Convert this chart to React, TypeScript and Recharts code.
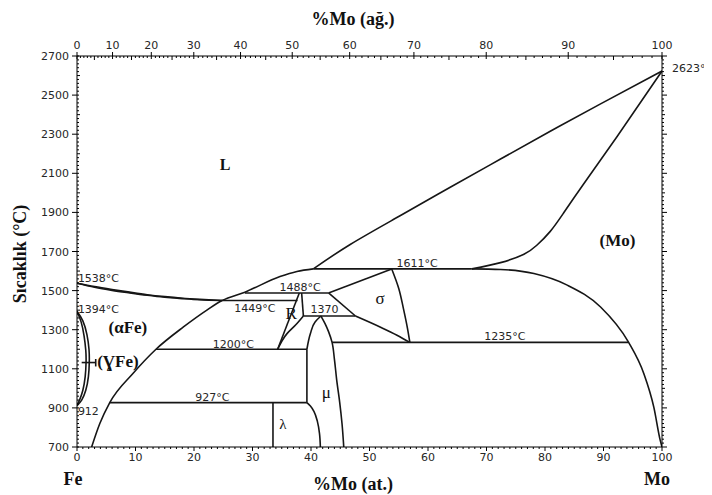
import React from "react";
import { LineChart, Line, XAxis, YAxis, ReferenceDot } from "recharts";

type P = { x: number; t: number };

// ---- tick labels ----
const atTicks = [0, 10, 20, 30, 40, 50, 60, 70, 80, 90, 100];
const wtTickLabels = [0, 10, 20, 30, 40, 50, 60, 70, 80, 90, 100];
const tempTicks = [700, 900, 1100, 1300, 1500, 1700, 1900, 2100, 2300, 2500, 2700];

// ---- phase boundaries (x = at.% Mo, t = °C) ----
const liqFeUpper: P[] = [
  { x: 0, t: 1538 }, { x: 3, t: 1521 }, { x: 6, t: 1506 }, { x: 9, t: 1492 },
  { x: 12, t: 1479 }, { x: 15, t: 1469 }, { x: 18, t: 1461 }, { x: 21, t: 1455 }, { x: 24.8, t: 1449 },
];
const solFeLower: P[] = [
  { x: 0, t: 1538 }, { x: 3, t: 1517 }, { x: 6, t: 1501 }, { x: 9, t: 1488 },
  { x: 12, t: 1476 }, { x: 15, t: 1466 }, { x: 18, t: 1459 }, { x: 21, t: 1453 }, { x: 24.8, t: 1449 },
];
const alphaSolvusLiq: P[] = [
  { x: 2.5, t: 700 }, { x: 3.9, t: 820 }, { x: 5.6, t: 927 }, { x: 9.6, t: 1077 },
  { x: 13.5, t: 1200 }, { x: 18.2, t: 1314 }, { x: 22.2, t: 1400 }, { x: 24.8, t: 1449 },
  { x: 28.7, t: 1492 }, { x: 34.7, t: 1572 }, { x: 37.6, t: 1598 }, { x: 40.4, t: 1611 },
];
const liquidusMo: P[] = [
  { x: 40.4, t: 1611 }, { x: 46.7, t: 1736 }, { x: 55.3, t: 1884 }, { x: 63.8, t: 2029 },
  { x: 72.4, t: 2173 }, { x: 80.9, t: 2315 }, { x: 89.5, t: 2455 }, { x: 100, t: 2623 },
];
const solidusMo: P[] = [
  { x: 67.5, t: 1611 }, { x: 72.4, t: 1643 }, { x: 76.4, t: 1686 }, { x: 78.6, t: 1732 },
  { x: 80.9, t: 1803 }, { x: 83.2, t: 1898 }, { x: 86.6, t: 2045 }, { x: 92.3, t: 2287 }, { x: 100, t: 2623 },
];
const solvusMo: P[] = [
  { x: 67.5, t: 1611 }, { x: 72.4, t: 1608 }, { x: 78.1, t: 1587 }, { x: 83.8, t: 1528 },
  { x: 89.5, t: 1416 }, { x: 94.3, t: 1235 }, { x: 96.9, t: 1075 }, { x: 98.6, t: 904 },
  { x: 99.7, t: 734 }, { x: 100, t: 700 },
];
const gammaOuter: P[] = [
  { x: 0, t: 1394 }, { x: 1.0, t: 1345 }, { x: 1.7, t: 1275 }, { x: 2.05, t: 1200 },
  { x: 2.1, t: 1135 }, { x: 1.95, t: 1060 }, { x: 1.5, t: 990 }, { x: 0.8, t: 940 }, { x: 0, t: 912 },
];
const gammaInner: P[] = [
  { x: 0, t: 1394 }, { x: 0.7, t: 1340 }, { x: 1.2, t: 1270 }, { x: 1.5, t: 1195 },
  { x: 1.55, t: 1135 }, { x: 1.4, t: 1060 }, { x: 1.0, t: 990 }, { x: 0.5, t: 945 }, { x: 0, t: 912 },
];
const gammaPointer: P[] = [{ x: 0.8, t: 1132 }, { x: 3.2, t: 1132 }];
const gammaPointerEnd: P[] = [{ x: 3.2, t: 1150 }, { x: 3.2, t: 1112 }];

const iso1611: P[] = [{ x: 40.4, t: 1611 }, { x: 67.5, t: 1611 }];
const iso1488: P[] = [{ x: 28.7, t: 1488 }, { x: 43, t: 1488 }];
const iso1449: P[] = [{ x: 24.8, t: 1449 }, { x: 37.7, t: 1449 }];
const iso1370: P[] = [{ x: 38.7, t: 1370 }, { x: 47.6, t: 1370 }];
const iso1235: P[] = [{ x: 43.6, t: 1235 }, { x: 94.3, t: 1235 }];
const iso1200: P[] = [{ x: 13.5, t: 1200 }, { x: 39.3, t: 1200 }];
const iso927: P[] = [{ x: 5.6, t: 927 }, { x: 39.3, t: 927 }];
const lambdaLine: P[] = [{ x: 33.5, t: 927 }, { x: 33.5, t: 700 }];

const rLeft: P[] = [{ x: 34.3, t: 1200 }, { x: 38.0, t: 1488 }];
const rRight: P[] = [{ x: 38.4, t: 1488 }, { x: 38.7, t: 1370 }];
const rBottom: P[] = [{ x: 38.7, t: 1370 }, { x: 37.4, t: 1325 }, { x: 35.9, t: 1280 }, { x: 34.3, t: 1200 }];

const muLeftTop: P[] = [{ x: 41.7, t: 1370 }, { x: 40.7, t: 1340 }, { x: 39.9, t: 1280 }, { x: 39.3, t: 1200 }];
const muLeftMid: P[] = [{ x: 39.3, t: 1200 }, { x: 39.3, t: 927 }];
const muLeftLow: P[] = [
  { x: 39.3, t: 927 }, { x: 39.9, t: 910 }, { x: 40.5, t: 882 }, { x: 41.1, t: 830 },
  { x: 41.45, t: 770 }, { x: 41.6, t: 700 },
];
const muRight: P[] = [
  { x: 41.7, t: 1370 }, { x: 42.4, t: 1331 }, { x: 43.0, t: 1290 }, { x: 43.6, t: 1235 },
  { x: 44.0, t: 1150 }, { x: 44.4, t: 1041 }, { x: 44.9, t: 930 }, { x: 45.3, t: 820 }, { x: 45.6, t: 700 },
];

const sigmaLeftUp: P[] = [{ x: 43, t: 1488 }, { x: 53.8, t: 1611 }];
const sigmaLeftMid: P[] = [{ x: 43, t: 1488 }, { x: 47.6, t: 1370 }];
const sigmaLeftLow: P[] = [{ x: 47.6, t: 1370 }, { x: 51.8, t: 1314 }, { x: 54.7, t: 1272 }, { x: 56.9, t: 1235 }];
const sigmaRight: P[] = [
  { x: 53.8, t: 1611 }, { x: 55.0, t: 1511 }, { x: 55.8, t: 1408 }, { x: 56.5, t: 1306 }, { x: 56.9, t: 1235 },
];

type Kind = "linear" | "monotoneX" | "monotoneY" | "natural";
const curves: { d: P[]; k: Kind }[] = [
  { d: liqFeUpper, k: "monotoneX" }, { d: solFeLower, k: "monotoneX" },
  { d: alphaSolvusLiq, k: "monotoneX" }, { d: liquidusMo, k: "natural" },
  { d: solidusMo, k: "natural" }, { d: solvusMo, k: "monotoneX" },
  { d: gammaOuter, k: "natural" }, { d: gammaInner, k: "natural" },
  { d: gammaPointer, k: "linear" }, { d: gammaPointerEnd, k: "linear" },
  { d: iso1611, k: "linear" }, { d: iso1488, k: "linear" }, { d: iso1449, k: "linear" },
  { d: iso1370, k: "linear" }, { d: iso1235, k: "linear" }, { d: iso1200, k: "linear" },
  { d: iso927, k: "linear" }, { d: lambdaLine, k: "linear" },
  { d: rLeft, k: "linear" }, { d: rRight, k: "linear" }, { d: rBottom, k: "monotoneY" },
  { d: muLeftTop, k: "monotoneY" }, { d: muLeftMid, k: "linear" }, { d: muLeftLow, k: "monotoneY" },
  { d: muRight, k: "monotoneY" },
  { d: sigmaLeftUp, k: "linear" }, { d: sigmaLeftMid, k: "linear" },
  { d: sigmaLeftLow, k: "monotoneX" }, { d: sigmaRight, k: "monotoneY" },
];

// ---- annotations ----
const tempNotes = [
  { x: 0.15, t: 1543, text: "1538°C" },
  { x: 0.15, t: 1384, text: "1394°C" },
  { x: 0.15, t: 862, text: "912" },
  { x: 26.9, t: 1388, text: "1449°C" },
  { x: 34.6, t: 1498, text: "1488°C" },
  { x: 39.9, t: 1383, text: "1370" },
  { x: 23.2, t: 1208, text: "1200°C" },
  { x: 20.2, t: 935, text: "927°C" },
  { x: 54.6, t: 1621, text: "1611°C" },
  { x: 69.6, t: 1246, text: "1235°C" },
  { x: 101.7, t: 2618, text: "2623°C" },
];
const phaseNotes = [
  { x: 25.3, t: 2147, text: "L", bold: true, size: 16 },
  { x: 92.4, t: 1758, text: "(Mo)", bold: true, size: 17 },
  { x: 8.7, t: 1312, text: "(αFe)", bold: true, size: 17 },
  { x: 7.0, t: 1138, text: "(ƔFe)", bold: true, size: 17 },
  { x: 36.6, t: 1384, text: "R", bold: false, size: 17 },
  { x: 51.8, t: 1461, text: "σ", bold: false, size: 17 },
  { x: 42.6, t: 980, text: "μ", bold: false, size: 17 },
  { x: 35.2, t: 816, text: "λ", bold: false, size: 15 },
];

const MFe = 55.845;
const MMo = 95.95;
const wtToAt = (w: number) =>
  w <= 0 ? 0 : w >= 100 ? 100 : ((w / MMo) / (w / MMo + (100 - w) / MFe)) * 100;

const intRange = (a: number, b: number, s: number) => {
  const r: number[] = [];
  for (let i = 0; a + i * s <= b; i++) r.push(a + i * s);
  return r;
};

const wtAll = intRange(0, 100, 1);
const topTickPos = wtAll.map(wtToAt);
const botTickPos = intRange(0, 100, 1);
const tempTickPos = intRange(700, 2700, 20);

const W = 704;
const H = 487;
const numFont = { fontSize: 11, fill: "#262626", fontFamily: "DejaVu Sans" };
const serif = "'Liberation Serif', 'DejaVu Serif', serif";
const INK = "#000";

const BottomTick = (p: any) => {
  const v = Math.round(p.payload.value);
  const major = v % 10 === 0;
  return (
    <g>
      <line x1={p.x} y1={p.y} x2={p.x} y2={p.y + (major ? 4 : 2)} stroke={INK} strokeWidth={1} />
      {major && atTicks.includes(v) ? (
        <text x={p.x} y={p.y + 14} textAnchor="middle" {...numFont}>{v}</text>
      ) : null}
    </g>
  );
};

const TopTick = (p: any) => {
  const w = wtAll[p.index];
  const major = w % 10 === 0;
  const mid = w % 5 === 0;
  return (
    <g>
      {major ? (
        <line x1={p.x} y1={p.y - 4} x2={p.x} y2={p.y + 3} stroke={INK} strokeWidth={1} />
      ) : (
        <line x1={p.x} y1={p.y} x2={p.x} y2={p.y + (mid ? 4 : 2)} stroke={INK} strokeWidth={1} />
      )}
      {major ? (
        <text x={p.x} y={p.y - 7} textAnchor="middle" {...numFont}>{wtTickLabels[w / 10]}</text>
      ) : null}
    </g>
  );
};

const LeftTick = (p: any) => {
  const v = Math.round(p.payload.value);
  const labelled = tempTicks.includes(v);
  const mid = v % 100 === 0;
  return (
    <g>
      {labelled ? (
        <line x1={p.x - 5} y1={p.y} x2={p.x + 2} y2={p.y} stroke={INK} strokeWidth={1} />
      ) : (
        <line x1={p.x} y1={p.y} x2={p.x + (mid ? 3 : 2)} y2={p.y} stroke={INK} strokeWidth={1} />
      )}
      {labelled ? (
        <text x={p.x - 8} y={p.y + 4} textAnchor="end" {...numFont}>{v}</text>
      ) : null}
    </g>
  );
};

const RightTick = (p: any) => {
  const v = Math.round(p.payload.value);
  const major = tempTicks.includes(v);
  const mid = v % 100 === 0;
  return <line x1={p.x} y1={p.y} x2={p.x + (major ? 5 : mid ? 3 : 2)} y2={p.y} stroke={INK} strokeWidth={1} />;
};

const ax = { stroke: INK, strokeWidth: 1 };

export default function App() {
  return (
    <div style={{ position: "relative", width: W, height: H }}>
      <LineChart width={W} height={H} margin={{ top: 18, right: 10, bottom: 18, left: 29 }}>
        <XAxis xAxisId="b" type="number" dataKey="x" domain={[0, 100]} ticks={botTickPos} interval={0}
          orientation="bottom" height={30} tickSize={0} tickMargin={0} tick={(p: any) => <BottomTick {...p} />}
          axisLine={ax} tickLine={false} allowDataOverflow />
        <XAxis xAxisId="t" type="number" dataKey="x" domain={[0, 100]} ticks={topTickPos} interval={0}
          orientation="top" height={30} tickSize={0} tickMargin={0} tick={(p: any) => <TopTick {...p} />}
          axisLine={ax} tickLine={false} allowDataOverflow />
        <YAxis yAxisId="l" type="number" domain={[700, 2700]} ticks={tempTickPos} interval={0}
          width={40} tickSize={0} tickMargin={0} tick={(p: any) => <LeftTick {...p} />}
          axisLine={ax} tickLine={false} allowDataOverflow />
        <YAxis yAxisId="r" type="number" orientation="right" domain={[700, 2700]} ticks={tempTickPos} interval={0}
          width={40} tickSize={0} tickMargin={0} tick={(p: any) => <RightTick {...p} />}
          axisLine={ax} tickLine={false} allowDataOverflow />

        {curves.map((c, i) => (
          <Line key={i} xAxisId="b" yAxisId="l" data={c.d} dataKey="t" type={c.k}
            stroke="#161616" strokeWidth={1.6} dot={false} activeDot={false} isAnimationActive={false} />
        ))}

        {tempNotes.map((n, i) => (
          <ReferenceDot key={"tn" + i} xAxisId="b" yAxisId="l" x={n.x} y={n.t} r={0} ifOverflow="visible"
            shape={(p: any) => (
              <text x={p.cx} y={p.cy} {...numFont}>{n.text}</text>
            )} />
        ))}
        {phaseNotes.map((n, i) => (
          <ReferenceDot key={"pn" + i} xAxisId="b" yAxisId="l" x={n.x} y={n.t} r={0} ifOverflow="visible"
            shape={(p: any) => (
              <text x={p.cx} y={p.cy} fontSize={n.size} fontFamily={serif} fontWeight={n.bold ? "bold" : "normal"}
                fill="#111" textAnchor="middle" dominantBaseline="central">{n.text}</text>
            )} />
        ))}
      </LineChart>

      <div style={{ position: "absolute", left: 245, top: 1, width: 200, textAlign: "center", font: `bold 18px ${serif}`, lineHeight: "20px", color: "#111" }}>%Mo (ağ.)</div>
      <div style={{ position: "absolute", left: 245, top: 466, width: 200, textAlign: "center", font: `bold 18px ${serif}`, lineHeight: "20px", color: "#111" }}>%Mo (at.)</div>
      <div style={{ position: "absolute", left: 45, top: 461, width: 40, textAlign: "center", font: `bold 18px ${serif}`, lineHeight: "20px", color: "#111" }}>Fe</div>
      <div style={{ position: "absolute", left: 629, top: 461, width: 40, textAlign: "center", font: `bold 18px ${serif}`, lineHeight: "20px", color: "#111" }}>Mo</div>
      <div style={{ position: "absolute", left: 12 - 80, top: 246 - 10, width: 160, textAlign: "center", font: `bold 18px ${serif}`, lineHeight: "20px", color: "#111", transform: "rotate(-90deg)" }}>Sıcaklık (°C)</div>
    </div>
  );
}
